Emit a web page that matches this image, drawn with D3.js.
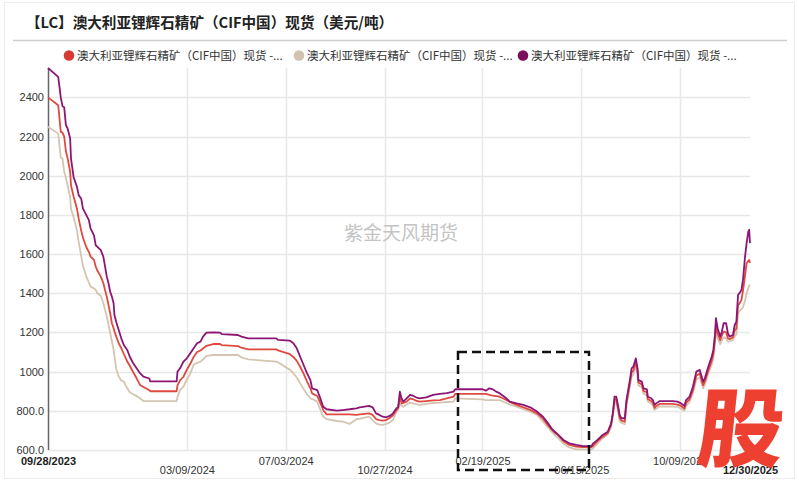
<!DOCTYPE html>
<html><head><meta charset="utf-8">
<script src="https://cdn.jsdelivr.net/npm/d3@7/dist/d3.min.js"></script>
<style>
html,body{margin:0;padding:0;background:#fff;}
svg{display:block;}
</style></head>
<body>
<svg id="chart" width="799" height="481"></svg>
<script>
const titleText = "【LC】澳大利亚锂辉石精矿（CIF中国）现货（美元/吨）";
const seriesNames = [
  "澳大利亚锂辉石精矿（CIF中国）现货 -...",
  "澳大利亚锂辉石精矿（CIF中国）现货 -...",
  "澳大利亚锂辉石精矿（CIF中国）现货 -..."
];
const watermark = "紫金天风期货";
const xTickDates = ["2023-09-28","2024-03-09","2024-07-03","2024-10-27","2025-02-19","2025-06-15","2025-10-09","2025-12-30"];
const xTickLabels = ["09/28/2023","03/09/2024","07/03/2024","10/27/2024","02/19/2025","06/15/2025","10/09/2025","12/30/2025"];
const yTickValues = [600,800,1000,1200,1400,1600,1800,2000,2200,2400];
const yTickLabels = ["600.0","800.0","1000","1200","1400","1600","1800","2000","2200","2400"];

const dates = [
"2023-09-28","2023-10-10","2023-10-13","2023-10-15","2023-10-17","2023-10-19","2023-10-21","2023-10-24","2023-10-25","2023-10-28",
"2023-11-01","2023-11-03","2023-11-06","2023-11-08","2023-11-12","2023-11-15","2023-11-17","2023-11-21","2023-11-23","2023-11-25",
"2023-11-29","2023-12-02","2023-12-04","2023-12-06","2023-12-08","2023-12-10","2023-12-12","2023-12-14","2023-12-15","2023-12-17",
"2023-12-20","2023-12-23","2023-12-26","2023-12-30","2024-01-02","2024-01-06","2024-01-10","2024-01-14","2024-01-18","2024-01-25",
"2024-01-26","2024-02-26","2024-02-27","2024-03-01","2024-03-05","2024-03-09","2024-03-13","2024-03-17","2024-03-21","2024-03-25",
"2024-03-28","2024-04-01","2024-04-09","2024-04-17","2024-04-19","2024-05-08","2024-05-12","2024-05-20","2024-06-22","2024-06-24",
"2024-07-08","2024-07-12","2024-07-16","2024-07-20","2024-07-24","2024-07-28","2024-08-01","2024-08-03","2024-08-09","2024-08-12",
"2024-08-16","2024-08-20","2024-09-01","2024-09-08","2024-09-16","2024-09-24","2024-09-28","2024-10-09","2024-10-13","2024-10-17",
"2024-10-21","2024-10-25","2024-10-29","2024-11-02","2024-11-06","2024-11-10","2024-11-12","2024-11-14","2024-11-16","2024-11-18",
"2024-11-22","2024-11-26","2024-11-30","2024-12-03","2024-12-07","2024-12-15","2024-12-23","2024-12-31","2025-01-08","2025-01-16",
"2025-01-18","2025-02-19","2025-02-23","2025-02-27","2025-03-03","2025-03-07","2025-03-11","2025-03-19","2025-03-23","2025-03-31",
"2025-04-08","2025-04-16","2025-04-24","2025-05-01","2025-05-07","2025-05-11","2025-05-15","2025-05-19","2025-05-25","2025-06-01",
"2025-06-09","2025-06-17","2025-06-27","2025-06-29","2025-07-04","2025-07-10","2025-07-16","2025-07-20","2025-07-22","2025-07-24",
"2025-07-26","2025-07-28","2025-07-30","2025-08-01","2025-08-05","2025-08-07","2025-08-11","2025-08-13","2025-08-15","2025-08-18",
"2025-08-20","2025-08-21","2025-08-25","2025-08-27","2025-08-31","2025-09-01","2025-09-05","2025-09-07","2025-09-09","2025-09-11",
"2025-09-15","2025-09-30","2025-10-06","2025-10-10","2025-10-14","2025-10-16","2025-10-20","2025-10-24","2025-10-28","2025-11-01",
"2025-11-05","2025-11-07","2025-11-11","2025-11-15","2025-11-17","2025-11-19","2025-11-20","2025-11-22","2025-11-25","2025-11-27",
"2025-11-29","2025-12-02","2025-12-04","2025-12-06","2025-12-10","2025-12-12","2025-12-14","2025-12-16","2025-12-18","2025-12-20",
"2025-12-22","2025-12-24","2025-12-26","2025-12-28","2025-12-29","2025-12-30"
];

const purpleValues = [
2550,2505,2400,2355,2350,2258,2241,2190,2088,1994,
1943,1901,1883,1832,1799,1773,1730,1696,1645,1637,
1620,1586,1536,1485,1451,1408,1383,1349,1289,1255,
1213,1170,1136,1111,1076,1043,1017,992,974,965,
950,950,1000,1017,1051,1068,1094,1119,1145,1153,
1179,1199,1200,1199,1192,1187,1179,1170,1170,1162,
1158,1145,1119,1076,1034,992,957,915,906,872,
821,808,801,804,808,813,818,825,818,787,
779,770,767,774,787,813,818,898,864,847,
864,881,876,869,864,869,881,886,890,898,
910,910,903,915,910,898,890,864,847,838,
830,818,796,770,736,711,693,677,651,634,
626,620,620,634,651,677,693,736,787,872,
872,830,779,762,762,855,957,1017,1025,1068,
1017,957,949,915,910,872,864,855,830,838,
850,850,847,838,825,855,872,923,1000,1009,
949,966,1025,1076,1111,1196,1273,1222,1179,1204,
1247,1247,1196,1179,1187,1238,1255,1392,1403,1417,
1477,1579,1656,1715,1724,1656
];

const redValues = [
2400,2360,2224,2220,2200,2125,2090,2020,1950,1895,
1832,1781,1720,1685,1635,1611,1587,1570,1536,1515,
1485,1451,1415,1383,1340,1298,1247,1222,1206,1180,
1145,1120,1090,1052,1030,997,966,932,922,905,
900,900,930,955,974,1010,1040,1075,1100,1108,
1118,1132,1141,1141,1135,1130,1122,1114,1114,1108,
1089,1075,1055,1025,990,950,915,889,876,847,
804,782,782,782,782,779,782,787,779,758,
753,750,753,763,777,804,815,869,838,840,
847,864,858,852,847,850,853,855,863,872,
886,886,886,881,878,875,872,855,845,830,
818,805,787,760,725,705,688,675,645,626,
617,615,615,622,645,668,685,728,787,855,
860,815,765,750,745,840,940,995,1005,1050,
1000,945,935,900,895,860,850,840,815,825,
835,835,832,825,812,840,858,905,980,990,
930,950,1005,1055,1090,1170,1238,1195,1160,1185,
1204,1200,1170,1165,1175,1210,1220,1340,1350,1366,
1420,1485,1553,1565,1570,1555
];

const beigeValues = [
2250,2215,2093,2088,2020,1990,1950,1890,1830,1790,
1720,1662,1590,1540,1485,1455,1434,1425,1417,1400,
1387,1349,1315,1281,1240,1196,1155,1111,1080,1015,
975,955,949,915,895,885,875,864,850,850,
850,850,870,906,923,960,990,1035,1045,1051,
1063,1080,1085,1085,1085,1085,1073,1063,1051,1048,
1009,992,970,940,912,885,864,860,847,813,
770,758,748,745,733,757,760,770,753,736,
730,728,733,740,753,796,805,838,828,821,
832,842,838,834,830,835,840,842,845,847,
864,858,855,855,855,855,855,840,832,821,
808,796,779,745,715,695,675,660,632,613,
603,603,603,610,632,660,680,719,770,838,
845,800,750,738,732,825,925,975,985,1030,
985,930,920,888,880,848,838,828,805,812,
822,822,820,812,800,825,845,890,960,970,
915,935,990,1035,1070,1150,1204,1170,1140,1160,
1175,1170,1153,1155,1162,1180,1190,1298,1310,1320,
1332,1360,1400,1425,1440,1443
];

const lineColors = ["#e0493f","#d4c5b2","#8c1674"];
const legendColors = ["#d63a31","#d2c2ae","#7c0c5c"];

const svg = d3.select("#chart");
const parse = d3.timeParse("%Y-%m-%d");
const mLeft = 48, mRight = 750, mTop = 68, mBottom = 450;

// frame
svg.append("rect").attr("x",4.5).attr("y",2.5).attr("width",790).attr("height",476)
  .attr("fill","none").attr("stroke","#ececec").attr("stroke-width",1);

// title
svg.append("text").attr("x",26).attr("y",27.5).text(titleText)
  .attr("font-family","'Noto Sans CJK SC', sans-serif").attr("font-weight","bold")
  .attr("font-size",14.6).attr("fill","#222");
svg.append("line").attr("x1",13).attr("x2",787).attr("y1",40.5).attr("y2",40.5)
  .attr("stroke","#cfcfcf").attr("stroke-width",1.5);

// legend
const legendX = [69, 299, 523];
seriesNames.forEach((n,i)=>{
  svg.append("circle").attr("cx",legendX[i]).attr("cy",55.5).attr("r",5.3).attr("fill",legendColors[i]);
  svg.append("text").attr("x",legendX[i]+8).attr("y",59.5).text(n)
    .attr("font-family","'Noto Sans CJK SC', sans-serif").attr("font-size",11.5).attr("fill","#333");
});

const x = d3.scaleTime().domain([parse(xTickDates[0]), parse(xTickDates[xTickDates.length-1])]).range([mLeft,mRight]);
const y = d3.scaleLinear().domain([600,2550]).range([mBottom,mTop]);

// grid
const g = svg.append("g");
g.selectAll(".hg").data(yTickValues).enter().append("line")
  .attr("x1",mLeft).attr("x2",mRight).attr("y1",d=>Math.round(y(d))+0.5).attr("y2",d=>Math.round(y(d))+0.5)
  .attr("stroke","#e8e8e8").attr("stroke-width",1.5);
g.selectAll(".vg").data(xTickDates.slice(1,-1)).enter().append("line")
  .attr("x1",d=>Math.round(x(parse(d)))+0.5).attr("x2",d=>Math.round(x(parse(d)))+0.5)
  .attr("y1",mTop).attr("y2",mBottom).attr("stroke","#e8e8e8").attr("stroke-width",1.5);

// y axis
const yAxis = d3.axisLeft(y).tickValues(yTickValues).tickSize(0).tickPadding(4)
  .tickFormat((d,i)=>yTickLabels[i]);
const ya = svg.append("g").attr("transform",`translate(${mLeft},0)`).call(yAxis);
ya.select(".domain").remove();
ya.selectAll("text").attr("font-family","'Liberation Sans', Arial, sans-serif").attr("font-size",11).attr("fill","#333");
svg.append("line").attr("x1",mLeft+0.5).attr("x2",mLeft+0.5).attr("y1",mTop).attr("y2",mBottom)
  .attr("stroke","#666").attr("stroke-width",1.5);

// x axis labels (staggered)
const xAxis = d3.axisBottom(x).tickValues(xTickDates.map(parse)).tickSize(0)
  .tickFormat((d,i)=>xTickLabels[i]);
const xa = svg.append("g").attr("transform",`translate(0,${mBottom})`).call(xAxis);
xa.select(".domain").remove();
xa.selectAll("text")
  .attr("font-family","'Liberation Sans', Arial, sans-serif").attr("font-size",11)
  .attr("fill",(d,i)=> (i===0||i===xTickDates.length-1) ? "#222" : "#333")
  .attr("font-weight",(d,i)=> (i===0||i===xTickDates.length-1) ? "bold" : "normal")
  .attr("y",(d,i)=> (i%2===1) ? 16 : 7)
  .attr("dy","0.71em");

// watermark
svg.append("text").attr("x",401).attr("y",240).attr("text-anchor","middle").text(watermark)
  .attr("font-family","'Noto Sans CJK SC', sans-serif").attr("font-size",19).attr("fill","#c4c4c4");

// lines
const rows = dates.map((d,i)=>({date:parse(d), p:purpleValues[i], r:redValues[i], b:beigeValues[i]}));
const mk = key => d3.line().x(d=>x(d.date)).y(d=>y(d[key]));
const order = [["b",lineColors[1]],["r",lineColors[0]],["p",lineColors[2]]];
order.forEach(([k,c])=>{
  svg.append("path").datum(rows).attr("d",mk(k)).attr("fill","none")
    .attr("stroke",c).attr("stroke-width",1.8).attr("stroke-linejoin","round");
});

// dashed box
svg.append("rect").attr("x",458).attr("y",352).attr("width",131).attr("height",118)
  .attr("fill","none").attr("stroke","#111").attr("stroke-width",2.5).attr("stroke-dasharray","9,5");

// logo
svg.append("g").attr("transform","translate(738,460) skewX(-6)")
  .append("text").attr("x",0).attr("y",0).attr("text-anchor","middle").text("股")
  .attr("font-family","'Noto Sans CJK SC', sans-serif").attr("font-weight",900)
  .attr("font-size",86).attr("fill","#ee4030");
</script>
</body></html>
